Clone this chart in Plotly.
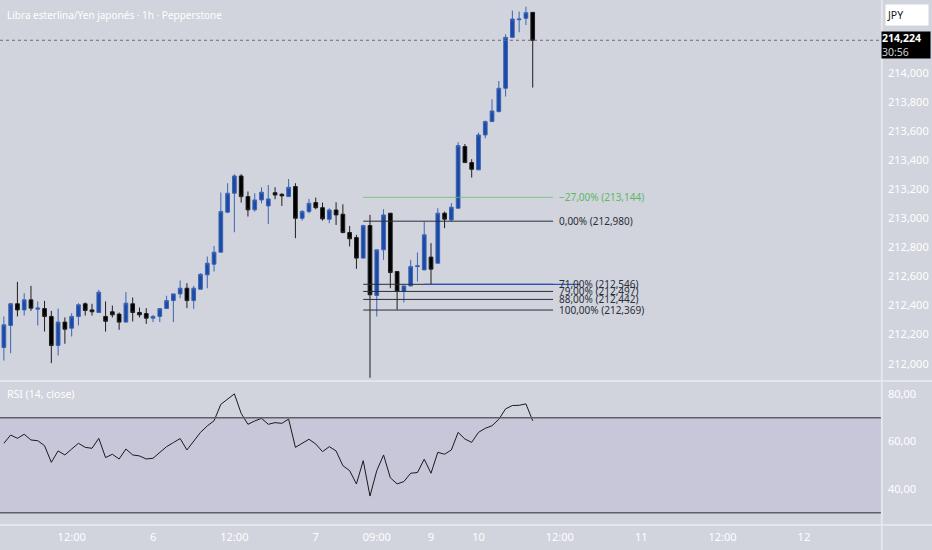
import plotly.graph_objects as go

# GBP/JPY 1h candles, bar positions relative to day 6 00:00 (New York time, weekend gap removed)
bars = list(range(-22, 57))

opens = [212.111, 212.263, 212.412, 212.370, 212.439, 212.375, 212.379, 212.325, 212.125, 212.286,
         212.244, 212.325, 212.412, 212.370, 212.352, 212.325, 212.357, 212.341, 212.286, 212.412,
         212.352, 212.345, 212.313, 212.325, 212.379, 212.434, 212.480, 212.519, 212.434, 212.512,
         212.611, 212.684, 212.767, 213.042, 213.172, 213.291, 213.149, 213.058, 213.126, 213.085,
         213.176, 213.165, 213.149, 213.218, 213.000, 213.046, 213.108, 213.073, 212.993, 213.057,
         213.028, 212.902, 212.867, 212.726, 212.950, 212.469, 212.783, 213.035, 212.634, 212.497,
         212.535, 212.668, 212.645, 212.733, 212.691, 213.035, 212.989, 213.069, 213.493, 213.383,
         213.333, 213.573, 213.665, 213.734, 213.894, 214.244, 214.365, 214.375, 214.416]
highs = [212.325, 212.416, 212.563, 212.485, 212.535, 212.428, 212.432, 212.363, 212.379, 212.318,
         212.347, 212.416, 212.421, 212.412, 212.508, 212.428, 212.400, 212.352, 212.492, 212.455,
         212.386, 212.382, 212.336, 212.379, 212.467, 212.480, 212.572, 212.554, 212.535, 212.622,
         212.737, 212.810, 213.177, 213.241, 213.303, 213.303, 213.184, 213.172, 213.213, 213.229,
         213.213, 213.172, 213.270, 213.241, 213.057, 213.133, 213.142, 213.108, 213.069, 213.110,
         213.096, 212.947, 212.886, 212.955, 213.023, 212.783, 213.062, 213.035, 212.634, 212.535,
         212.714, 212.765, 212.978, 212.829, 213.069, 213.046, 213.104, 213.523, 213.511, 213.406,
         213.589, 213.672, 213.818, 213.944, 214.265, 214.428, 214.421, 214.455, 214.416]
lows = [212.022, 212.073, 212.325, 212.331, 212.363, 212.263, 212.221, 212.004, 212.056, 212.137,
        212.187, 212.263, 212.331, 212.331, 212.352, 212.221, 212.318, 212.233, 212.286, 212.290,
        212.318, 212.274, 212.286, 212.286, 212.379, 212.286, 212.451, 212.382, 212.377, 212.512,
        212.519, 212.634, 212.767, 213.035, 212.904, 213.108, 213.012, 213.046, 213.103, 212.961,
        213.131, 213.085, 213.149, 212.863, 212.984, 213.034, 213.062, 212.984, 212.966, 212.954,
        212.897, 212.806, 212.652, 212.726, 211.903, 212.325, 212.714, 212.519, 212.371, 212.421,
        212.531, 212.565, 212.645, 212.542, 212.691, 212.932, 212.978, 213.069, 213.383, 213.280,
        213.333, 213.550, 213.665, 213.727, 213.837, 214.244, 214.279, 214.329, 213.899]
closes = [212.267, 212.412, 212.370, 212.439, 212.382, 212.382, 212.325, 212.125, 212.286, 212.237,
          212.325, 212.405, 212.366, 212.357, 212.492, 212.292, 212.336, 212.286, 212.416, 212.352,
          212.336, 212.313, 212.325, 212.379, 212.434, 212.480, 212.519, 212.434, 212.519, 212.615,
          212.691, 212.767, 213.046, 213.172, 213.291, 213.149, 213.058, 213.126, 213.179, 213.133,
          213.160, 213.154, 213.213, 213.000, 213.046, 213.103, 213.073, 212.996, 213.057, 213.023,
          212.902, 212.859, 212.726, 212.950, 212.474, 212.783, 213.023, 212.627, 212.497, 212.535,
          212.668, 212.673, 212.886, 212.650, 213.035, 212.994, 213.076, 213.500, 213.383, 213.337,
          213.573, 213.665, 213.738, 213.894, 214.244, 214.370, 214.370, 214.414, 214.224]

rsi = [59.2, 62.7, 61.3, 63.0, 60.6, 60.3, 58.2, 51.2, 56.0, 54.3,
       56.8, 59.2, 57.5, 57.1, 61.3, 53.2, 54.6, 52.6, 56.8, 54.3,
       53.9, 52.6, 52.9, 55.4, 57.8, 59.5, 61.2, 56.4, 59.9, 63.8,
       66.5, 68.7, 75.6, 77.9, 80.0, 71.8, 67.2, 68.6, 69.7, 67.2,
       67.9, 67.6, 69.4, 57.5, 59.2, 60.9, 58.9, 55.7, 57.8, 56.0,
       49.8, 47.7, 42.1, 51.9, 37.0, 47.7, 54.3, 44.7, 42.1, 43.1,
       46.6, 46.9, 52.5, 46.6, 55.4, 54.6, 56.4, 63.8, 61.0, 59.6,
       63.8, 65.5, 66.6, 69.3, 73.7, 75.1, 75.2, 75.8, 68.7]

tick_bars = [-12, 0, 12, 24, 33, 41, 48, 60, 72, 84, 96]
tick_labels = ["12:00", "6", "12:00", "7", "09:00", "9", "10", "12:00", "11", "12:00", "12"]
price_ticks = [212.0, 212.2, 212.4, 212.6, 212.8, 213.0, 213.2, 213.4, 213.6, 213.8, 214.0]
rsi_ticks = [40, 60, 80]

fib_pcts = [-27, 0, 71, 79, 88, 100]
fib_prices = [213.144, 212.980, 212.546, 212.497, 212.442, 212.369]
fib_start, fib_end = 31, 59
ray_start, ray_end = 40, 63  # blue horizontal at the 71% level

last_price = 214.224
countdown = "30:56"
title = "Libra esterlina/Yen japonés · 1h · Pepperstone"

BG = "#d1d4dc"
UP = "#1a49a6"
FONT = "Noto Sans"

fig = go.Figure()

fig.add_trace(go.Candlestick(
    x=bars, open=opens, high=highs, low=lows, close=closes,
    increasing=dict(line=dict(color="#3d64b4", width=1), fillcolor=UP),
    decreasing=dict(line=dict(color="#1e1e1e", width=1), fillcolor="#000000"),
    whiskerwidth=0, xaxis="x", yaxis="y", showlegend=False, hoverinfo="skip"))

fig.add_trace(go.Scatter(
    x=bars, y=rsi, mode="lines", line=dict(color="#1a1a1a", width=1),
    xaxis="x", yaxis="y2", showlegend=False, hoverinfo="skip"))

shapes = []
# RSI band 30-70
shapes.append(dict(type="rect", xref="x domain", yref="y2", x0=0, x1=1, y0=30, y1=70,
                   fillcolor="#c8c7da", line=dict(width=0), layer="below"))
for lvl in (70, 30):
    shapes.append(dict(type="line", xref="x domain", yref="y2", x0=0, x1=1, y0=lvl, y1=lvl,
                       line=dict(color="#5d606b", width=1.5)))

# last price dotted line
shapes.append(dict(type="line", xref="x domain", yref="y", x0=0, x1=1, y0=last_price, y1=last_price,
                   line=dict(color="#6a6d78", width=1, dash="dot")))

# fibonacci levels
for pct, p in zip(fib_pcts, fib_prices):
    col = "#6cbf72" if pct < 0 else "#2a2e39"
    w = 0.8 if pct < 0 else 1
    shapes.append(dict(type="line", xref="x", yref="y", x0=fib_start, x1=fib_end, y0=p, y1=p,
                       line=dict(color=col, width=w)))
shapes.append(dict(type="line", xref="x", yref="y", x0=ray_start, x1=ray_end,
                   y0=fib_prices[2], y1=fib_prices[2], line=dict(color="#2a55b0", width=1.2)))

# pane separators
sep = "#e4e6ec"
shapes.append(dict(type="line", xref="paper", yref="paper", x0=0, x1=1.06, y0=0.2745, y1=0.2745,
                   line=dict(color=sep, width=2)))
shapes.append(dict(type="line", xref="paper", yref="paper", x0=0, x1=1.06, y0=0, y1=0,
                   line=dict(color=sep, width=2)))
shapes.append(dict(type="line", xref="paper", yref="paper", x0=1.001, x1=1.001, y0=-0.06, y1=1,
                   line=dict(color=sep, width=2)))

annotations = []
annotations.append(dict(text=title, xref="paper", yref="paper", x=0, y=1, xanchor="left",
                        yanchor="top", xshift=5, yshift=-6, showarrow=False,
                        font=dict(family=FONT, size=10, color="#ffffff")))
annotations.append(dict(text="RSI (14, close)", xref="paper", yref="y2 domain", x=0, y=1,
                        xanchor="left", yanchor="top", xshift=5, yshift=-3, showarrow=False,
                        font=dict(family=FONT, size=10.5, color="#ffffff")))

for pct, p in zip(fib_pcts, fib_prices):
    sign = "−" if pct < 0 else ""
    txt = f"{sign}{abs(pct):.2f}% ({p:.3f})".replace(".", ",")
    col = "#5cb865" if pct < 0 else "#2a2e39"
    annotations.append(dict(text=txt, xref="x", yref="y", x=fib_end + 0.6, y=p, xanchor="left",
                            yanchor="middle", showarrow=False,
                            font=dict(family=FONT, size=10, color=col)))

annotations.append(dict(text=f"<b>{last_price:.3f}</b>".replace(".", ",") +
                        f"<br><span style='color:#d0d0d0'>{countdown}</span>",
                        xref="paper", yref="y", x=1, y=last_price, xanchor="left", yanchor="top",
                        yshift=9, showarrow=False, align="left", bgcolor="#000000",
                        width=48, height=26, borderpad=0,
                        font=dict(family=FONT, size=10.5, color="#ffffff")))
annotations.append(dict(text="JPY", xref="paper", yref="paper", x=1, y=1, xanchor="left",
                        yanchor="top", xshift=4, yshift=-4, showarrow=False, align="left",
                        bgcolor="#ffffff", width=40, height=18, borderpad=1,
                        font=dict(family=FONT, size=10.5, color="#131722")))

fig.update_layout(
    width=932, height=550,
    margin=dict(l=0, r=51, t=0, b=25),
    paper_bgcolor=BG, plot_bgcolor=BG,
    separators=",.",
    boxgap=0.22,
    font=dict(family=FONT, size=11, color="#ffffff"),
    xaxis=dict(domain=[0, 1], anchor="y2", range=[-22.57, 107.37], showgrid=False,
               zeroline=False, showline=False, tickmode="array", tickvals=tick_bars,
               ticktext=tick_labels, ticks="", ticklabelstandoff=4,
               tickfont=dict(size=11, color="#ffffff"),
               rangeslider=dict(visible=False)),
    yaxis=dict(domain=[0.2765, 1], anchor="x", side="right", range=[211.889, 214.501],
               showgrid=False, zeroline=False, tickmode="array", tickvals=price_ticks,
               tickformat=".3f", ticks="", ticklabelstandoff=6,
               tickfont=dict(size=11, color="#ffffff")),
    yaxis2=dict(domain=[0, 0.2725], anchor="x", side="right", range=[24.82, 85.03],
                showgrid=False, zeroline=False, tickmode="array", tickvals=rsi_ticks,
                tickformat=".2f", ticks="", ticklabelstandoff=6,
                tickfont=dict(size=11, color="#ffffff")),
    shapes=shapes,
    annotations=annotations,
)

fig.write_html("out.html", config={"displayModeBar": False},
               post_script="document.body.style.margin='0';")
